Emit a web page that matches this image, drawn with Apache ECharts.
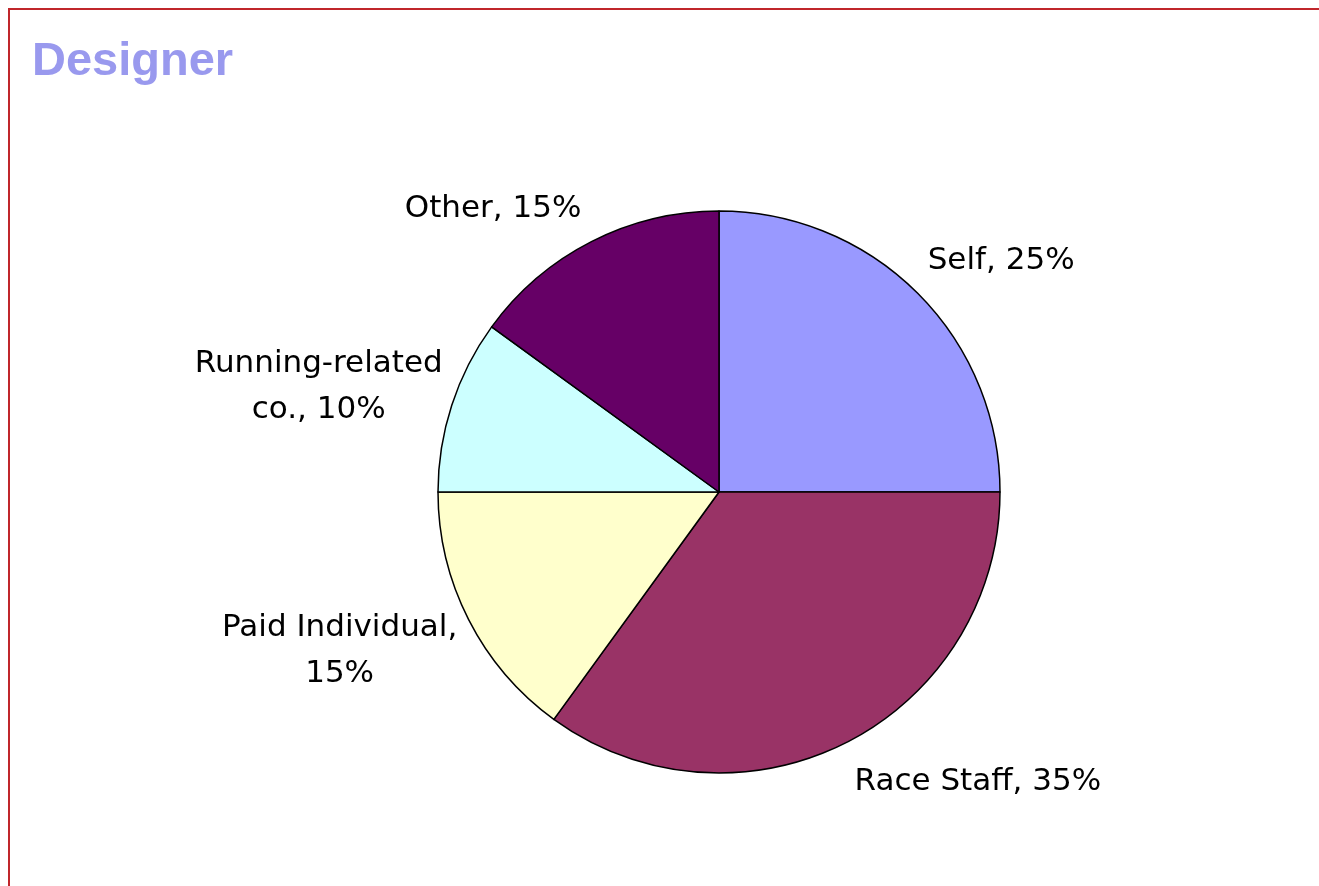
<!DOCTYPE html>
<html>
<head>
<meta charset="utf-8">
<title>Designer</title>
<script src="https://cdn.jsdelivr.net/npm/echarts@6/dist/echarts.min.js"></script>
<style>
    html, body { margin: 0; padding: 0; background: #fff; overflow: hidden; }
    #container { width: 1319px; height: 886px; }
    #frame {
        position: absolute; left: 8px; top: 8px; width: 1400px; height: 1000px;
        border-left: 2px solid #c0262b; border-top: 2px solid #c0262b;
        pointer-events: none;
    }
</style>
</head>
<body>
<div id="container"></div>
<div id="frame"></div>
<script>
    var names = ['Self', 'Race Staff', 'Paid Individual', 'Running-related co.', 'Other'];
    var values = [25, 35, 15, 10, 15];
    var colors = ['#9999ff', '#993366', '#ffffcc', '#ccffff', '#660066'];
    // where each label breaks onto a second line
    var wrap = ['none', 'none', 'comma', 'space', 'none'];
    // label nudges from the default outside spot
    var labelShift = [[5, -32], [3, 40], [-124, 31], [-128, -18], [-5, -33]];

    var data = [];
    for (var i = 0; i < names.length; i++) {
        data.push({
            name: names[i],
            value: values[i],
            itemStyle: { color: colors[i] }
        });
    }

    var dom = document.getElementById('container');
    var myChart = echarts.init(dom);
    var option = {
        animation: false,
        title: {
            text: 'Designer',
            left: 27,
            top: 34,
            textStyle: {
                color: '#9999ee',
                fontFamily: 'Liberation Sans',
                fontWeight: 'bold',
                fontSize: 47
            }
        },
        series: [
            {
                type: 'pie',
                center: [719, 492],
                radius: 281,
                startAngle: 90,
                clockwise: true,
                data: data,
                itemStyle: { borderColor: '#000', borderWidth: 1.5 },
                label: {
                    show: true,
                    position: 'outside',
                    overflow: 'none',
                    color: '#000',
                    fontFamily: 'DejaVu Sans',
                    fontSize: 31,
                    lineHeight: 46,
                    formatter: function (p) {
                        var w = wrap[p.dataIndex];
                        var n = p.name;
                        if (w == 'space') {
                            var k = n.lastIndexOf(' ');
                            n = n.substring(0, k) + '\n' + n.substring(k + 1);
                        }
                        return n + ',' + (w == 'comma' ? '\n' : ' ') + p.value + '%';
                    }
                },
                labelLine: { show: false, length: 0, length2: 0 },
                labelLayout: function (params) {
                    var s = labelShift[params.dataIndex];
                    var res = { dx: s[0], dy: s[1] };
                    if (wrap[params.dataIndex] != 'none') {
                        res.align = 'center';
                    }
                    return res;
                },
                emphasis: { disabled: true }
            }
        ]
    };
    myChart.setOption(option, true);
</script>
</body>
</html>
